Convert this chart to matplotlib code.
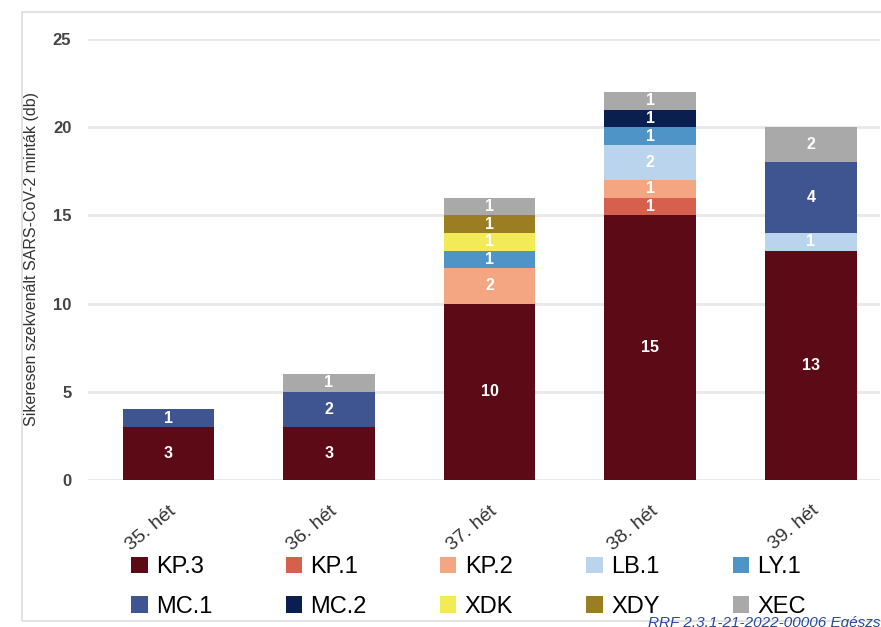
import numpy as np
import matplotlib.pyplot as plt
from matplotlib.patches import Rectangle

# Adatok
weeks = ['35. hét', '36. hét', '37. hét', '38. hét', '39. hét']
variants = ['KP.3', 'KP.1', 'KP.2', 'LB.1', 'LY.1', 'MC.1', 'MC.2', 'XDK', 'XDY', 'XEC']
kp3 = [3, 3, 10, 15, 13]
kp1 = [0, 0, 0, 1, 0]
kp2 = [0, 0, 2, 1, 0]
lb1 = [0, 0, 0, 2, 1]
ly1 = [0, 0, 1, 1, 0]
mc1 = [1, 2, 0, 0, 4]
mc2 = [0, 0, 0, 1, 0]
xdk = [0, 0, 1, 0, 0]
xdy = [0, 0, 1, 0, 0]
xec = [0, 1, 1, 1, 2]
series = [kp3, kp1, kp2, lb1, ly1, mc1, mc2, xdk, xdy, xec]
colors = ['#5c0a15', '#d6604d', '#f4a582', '#bad4ed', '#4f94c6',
          '#3f5591', '#0a1f4f', '#f2ea57', '#9c7e22', '#a9a9a9']

plt.rcParams['font.family'] = ['Liberation Sans', 'DejaVu Sans']

fig = plt.figure(figsize=(8.81, 6.27), dpi=100)
ax = fig.add_axes([88/881, 1 - 480/627, 792/881, (480 - 39)/627])

x = np.arange(len(weeks))
bottom = np.zeros(len(weeks))
handles = []
for name, vals, c in zip(variants, series, colors):
    vals = np.array(vals)
    bars = ax.bar(x, vals, 0.57, bottom=bottom, color=c, label=name, zorder=3)
    handles.append(bars)
    for xi, v, b in zip(x, vals, bottom):
        if v > 0:
            ax.text(xi, b + v / 2, str(v), ha='center', va='center', color='white',
                    fontsize=11.5, fontweight='bold', zorder=4)
    bottom += vals

ax.set_ylim(0, 25)
ax.set_xlim(-0.5, 4.43)
ax.set_yticks([0, 5, 10, 15, 20, 25])
ax.set_xticks(x)
ax.set_xticklabels(weeks, rotation=40, ha='right', va='top', rotation_mode='anchor',
                   fontsize=14, color='#333333')
ax.tick_params(axis='both', length=0)
ax.tick_params(axis='y', labelsize=12, labelcolor='#444444', pad=12)
for lab in ax.get_yticklabels():
    lab.set_fontweight('bold')
ax.tick_params(axis='x', pad=16)
for s in ax.spines.values():
    s.set_visible(False)
ax.grid(axis='y', color='#e8e8e8', linewidth=2, zorder=0)
ax.set_ylabel('Sikeresen szekvenált SARS-CoV-2 minták (db)', fontsize=11.5, color='#333333')
ax.yaxis.set_label_coords(-0.062, 0.5)

# sorfolytonos jelmagyarázat
order = [0, 5, 1, 6, 2, 7, 3, 8, 4, 9]
leg = fig.legend([handles[i] for i in order], [variants[i] for i in order],
                 loc='lower left', bbox_to_anchor=(110/881, -12/627), ncol=5,
                 frameon=False, handlelength=0.7, handleheight=0.7,
                 handletextpad=0.35, columnspacing=3.1, labelspacing=0.75,
                 prop={'family': ['Liberation Sans Narrow', 'Liberation Sans'], 'size': 17})

# keret
fig.patches.append(Rectangle((22/881, 6/627), 1.0, 609/627, transform=fig.transFigure,
                             fill=False, edgecolor='#dddddd', linewidth=1.2))

fig.text(648/881, -3/627, 'RRF 2.3.1-21-2022-00006 Egészségbiztonsági Nemzeti Laboratórium',
         fontsize=11, color='#2a4a9a', style='italic', ha='left', va='bottom')

fig.savefig('out.png', dpi=100)
